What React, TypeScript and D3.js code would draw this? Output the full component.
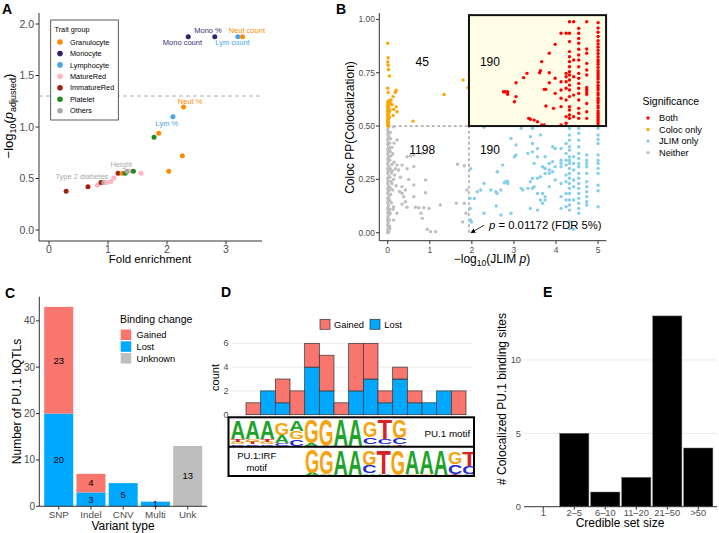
import React from "react";
import * as d3 from "d3";

const FONT = "'Liberation Sans', Arial, Helvetica, sans-serif";

// ---------- Panel A data ----------
const traitGroups = ["Granulocyte", "Monocyte", "Lymphocyte", "MatureRed", "ImmatureRed", "Platelet", "Others"];
const traitColors = ["#FF8C00", "#36206E", "#4AA3F0", "#FFB6C1", "#A3230F", "#1E8B1E", "#A9A9A9"];
const traitFold = [0.29, 0.66, 0.82, 0.88, 0.93, 0.98, 1.05, 1.10, 1.17, 1.24, 1.29, 1.37, 1.32, 1.43, 1.56, 2.03, 2.26, 1.78, 1.86, 2.10, 2.28, 2.36, 2.81, 3.20, 3.28];
const traitNegLogP = [0.375, 0.42, 0.435, 0.46, 0.46, 0.46, 0.47, 0.505, 0.55, 0.55, 0.55, 0.57, 0.57, 0.57, 0.55, 0.57, 0.72, 0.90, 0.94, 1.10, 1.194, 1.877, 1.877, 1.877, 1.877];
const traitGroupOf = ["ImmatureRed", "ImmatureRed", "MatureRed", "ImmatureRed", "Others", "MatureRed", "MatureRed", "MatureRed", "ImmatureRed", "Granulocyte", "Platelet", "MatureRed", "Others", "Platelet", "MatureRed", "Granulocyte", "Granulocyte", "Platelet", "Granulocyte", "Lymphocyte", "Granulocyte", "Monocyte", "Monocyte", "Lymphocyte", "Granulocyte"];
const traitLabels = ["", "", "", "", "Type 2 diabetes", "", "", "", "", "", "", "", "Height", "", "", "", "", "", "", "Lym %", "Neut %", "Mono count", "Mono %", "Lym count", "Neut count"];
const traitLabelColors: Record<string, string> = { Granulocyte: "#FF8C00", Monocyte: "#3D2E7C", Lymphocyte: "#4AA3F0", Others: "#AAAAAA" };
const traitLabelOffsets: [number, number][] = [[0, 0], [0, 0], [0, 0], [0, 0], [-22, -3.6], [0, 0], [0, 0], [0, 0], [0, 0], [0, 0], [0, 0], [0, 0], [-5.6, -4.3], [0, 0], [0, 0], [0, 0], [0, 0], [0, 0], [0, 0], [-6, 9.3], [6.5, -3.5], [-5.8, 8.3], [-6.8, -3.7], [-5.3, 8.3], [4.3, -3.7]];
const aXTicks = [0, 1, 2, 3];
const aYTicks = [0, 0.5, 1, 1.5, 2];

// ---------- Panel B data ----------
const sigLevels = ["Both", "Coloc only", "JLIM only", "Neither"];
const sigColors = ["#FF0000", "#FFA500", "#87CEEB", "#BEBEBE"];
const jlimThreshold = 1.931; // -log10(0.01172)
const bCounts = [
  { label: "45", x: 0.82, y: 0.80 },
  { label: "190", x: 2.43, y: 0.80 },
  { label: "1198", x: 0.82, y: 0.388 },
  { label: "190", x: 2.43, y: 0.388 },
];
const bXTicks = [0, 1, 2, 3, 4, 5];
const bYTicks = [0, 0.25, 0.5, 0.75, 1];

const neitherPts: [number, number][] = [
  [0, 0.0], [0, 0.012], [0.01, 0.024], [0, 0.035], [0.01, 0.047], [0, 0.058], [0, 0.07], [0.02, 0.081], [0, 0.093], [0.01, 0.104],
  [0, 0.116], [0.02, 0.127], [0, 0.139], [0.01, 0.15], [0, 0.162], [0.03, 0.173], [0, 0.185], [0.01, 0.196], [0, 0.208], [0.02, 0.219],
  [0, 0.231], [0.01, 0.242], [0, 0.254], [0.03, 0.265], [0, 0.277], [0.01, 0.288], [0, 0.3], [0.02, 0.311], [0, 0.323], [0.01, 0.334],
  [0, 0.346], [0.03, 0.357], [0, 0.369], [0.01, 0.38], [0, 0.392], [0.02, 0.403], [0, 0.415], [0.01, 0.426], [0, 0.438], [0.02, 0.449],
  [0, 0.461], [0.01, 0.472], [0, 0.484], [0.02, 0.495], [0.05, 0.02], [0.06, 0.09], [0.05, 0.15], [0.07, 0.18], [0.06, 0.21], [0.08, 0.24],
  [0.05, 0.26], [0.09, 0.28], [0.06, 0.3], [0.1, 0.32], [0.05, 0.34], [0.08, 0.36], [0.06, 0.38], [0.1, 0.4], [0.05, 0.42], [0.07, 0.44],
  [0.06, 0.47], [0.12, 0.2], [0.14, 0.25], [0.11, 0.29], [0.15, 0.33], [0.12, 0.37], [0.09, 0.14], [0.13, 0.11], [0.16, 0.27], [0.18, 0.3],
  [0.1, 0.23], [0.2, 0.22], [0.04, 0.06], [0.05, 0.11], [0.14, 0.497], [0.22, 0.435], [0.15, 0.42], [0.46, 0.356], [0.54, 0.36], [0.62, 0.364],
  [0.82, 0.372], [0.22, 0.317], [0.34, 0.317], [0.26, 0.294], [0.46, 0.30], [0.62, 0.31], [1.66, 0.321], [1.82, 0.314], [0.34, 0.216], [0.42, 0.2],
  [0.28, 0.193], [0.38, 0.169], [0.62, 0.169], [0.9, 0.187], [0.9, 0.247], [0.62, 0.224], [0.42, 0.145], [0.34, 0.134], [0.14, 0.122], [0.22, 0.091],
  [0.46, 0.119], [0.66, 0.119], [0.74, 0.117], [0.86, 0.117], [0.98, 0.114], [0.79, 0.091], [0.82, 0.067], [1.25, 0.13], [1.63, 0.138], [1.82, 0.138],
  [1.86, 0.091], [0.94, 0.016], [1.02, 0.005], [1.14, 0.005], [0.14, 0.059], [0.34, 0.185], [1.78, 0.05], [1.88, 0.2], [0.3, 0.26], [0.5, 0.25],
  [0.03, 0.005], [0.04, 0.03], [0.03, 0.1], [0.04, 0.2], [0.03, 0.29], [0.04, 0.39], [0.03, 0.45], [0.02, 0.06], [0.02, 0.16], [0.02, 0.35],
];
const colocPts: [number, number][] = [
  [0, 0.5], [0.01, 0.505], [0, 0.511], [0.02, 0.516], [0, 0.522], [0.01, 0.527], [0, 0.533], [0.03, 0.538], [0, 0.544], [0.01, 0.549],
  [0, 0.555], [0.02, 0.56], [0, 0.566], [0.01, 0.571], [0, 0.577], [0.03, 0.582], [0, 0.588], [0.01, 0.593], [0, 0.599], [0.02, 0.604],
  [0, 0.61], [0.01, 0.615], [0.04, 0.62], [0.03, 0.6], [0.05, 0.57], [0.04, 0.54], [0, 0.888], [0.01, 0.82], [0, 0.80], [0.01, 0.785],
  [0.02, 0.765], [0.04, 0.735], [0, 0.677], [0.01, 0.657], [0.2, 0.668], [0.18, 0.657], [0.13, 0.638], [0.08, 0.622], [0.2, 0.59], [0.14, 0.578],
  [0.22, 0.567], [0.13, 0.55], [0.6, 0.523], [1.34, 0.648], [1.79, 0.716], [1.91, 0.68], [0.06, 0.61], [0.1, 0.6],
];
const jlimPts: [number, number][] = [
  [5, 0.489], [5, 0.458], [5, 0.437], [5, 0.418], [5, 0.364], [5, 0.34], [5, 0.325], [5, 0.301], [5, 0.278], [5, 0.223], [5, 0.197], [5, 0.122],
  [4.73, 0.364], [4.73, 0.34], [4.73, 0.325], [4.73, 0.309], [4.73, 0.278], [4.73, 0.239], [4.73, 0.216], [4.73, 0.192], [4.73, 0.169], [4.73, 0.145], [4.73, 0.13],
  [4.54, 0.489], [4.54, 0.466], [4.54, 0.434], [4.54, 0.403], [4.54, 0.372], [4.54, 0.348], [4.54, 0.325], [4.54, 0.309], [4.54, 0.278], [4.54, 0.255],
  [4.54, 0.231], [4.54, 0.208], [4.54, 0.184], [4.54, 0.161], [4.54, 0.138], [4.54, 0.114], [4.54, 0.091],
  [4.42, 0.356], [4.42, 0.325], [4.42, 0.294], [4.42, 0.247], [4.42, 0.216], [4.42, 0.153], [4.42, 0.016],
  [4.32, 0.489], [4.32, 0.458], [4.32, 0.434], [4.32, 0.403], [4.32, 0.387], [4.32, 0.356], [4.32, 0.34], [4.32, 0.325], [4.32, 0.301], [4.32, 0.278],
  [4.32, 0.255], [4.32, 0.231], [4.32, 0.208], [4.32, 0.184], [4.32, 0.153], [4.32, 0.13], [4.32, 0.106], [4.32, 0.052], [4.32, 0.02],
  [4.24, 0.418], [4.24, 0.372], [4.24, 0.34], [4.24, 0.317], [4.24, 0.27], [4.24, 0.239], [4.24, 0.184], [4.24, 0.153], [4.24, 0.122],
  [4.12, 0.395], [4.12, 0.34], [4.12, 0.325], [4.12, 0.309], [4.12, 0.231], [4.12, 0.169], [4.12, 0.114],
  [3.98, 0.395], [3.98, 0.309], [3.98, 0.247], [3.92, 0.403], [3.92, 0.333], [3.92, 0.286],
  [3.84, 0.325], [3.84, 0.294], [3.84, 0.278], [3.84, 0.216], [3.74, 0.356], [3.74, 0.301], [3.74, 0.278], [3.74, 0.169], [3.74, 0.153],
  [3.68, 0.309], [3.68, 0.184], [3.68, 0.138], [3.63, 0.458], [3.63, 0.262], [3.63, 0.153],
  [3.56, 0.395], [3.56, 0.356], [3.56, 0.255], [3.56, 0.184], [3.56, 0.106], [3.48, 0.325], [3.48, 0.216],
  [3.44, 0.418], [3.44, 0.379], [3.44, 0.255], [3.44, 0.208], [3.39, 0.45], [3.39, 0.239], [3.39, 0.114], [3.33, 0.372], [3.33, 0.208],
  [3.21, 0.2], [3.17, 0.208], [3.05, 0.411], [3.05, 0.364], [3.01, 0.356], [2.93, 0.442], [2.93, 0.091], [2.85, 0.231], [2.77, 0.234],
  [2.69, 0.2], [2.69, 0.083], [2.57, 0.192], [2.61, 0.286], [2.73, 0.317], [2.45, 0.2], [2.29, 0.231], [2.29, 0.091],
  [1.97, 0.30], [1.96, 0.161], [1.96, 0.114], [1.97, 0.06], [1.99, 0.05], [2.29, 0.494], [2.13, 0.192], [2.21, 0.2], [2.6, 0.184],
  [2.6, 0.285], [2.81, 0.24], [2.85, 0.24], [2.58, 0.125], [2.06, 0.16], [3.17, 0.489], [3.44, 0.489],
];
const bothPts: [number, number][] = [
  [5, 0.985], [5, 0.96], [5, 0.94], [5, 0.92], [5, 0.9], [5, 0.885], [5, 0.87], [5, 0.855], [5, 0.84], [5, 0.825], [5, 0.81], [5, 0.8],
  [5, 0.79], [5, 0.775], [5, 0.76], [5, 0.75], [5, 0.74], [5, 0.73], [5, 0.72], [5, 0.705], [5, 0.69], [5, 0.68], [5, 0.67], [5, 0.655],
  [5, 0.645], [5, 0.63], [5, 0.62], [5, 0.61], [5, 0.595], [5, 0.585], [5, 0.57], [5, 0.56], [5, 0.55], [5, 0.54], [5, 0.53], [5, 0.52], [5, 0.51],
  [4.73, 0.989], [4.73, 0.861], [4.73, 0.841], [4.73, 0.794], [4.73, 0.763], [4.73, 0.739], [4.73, 0.681], [4.73, 0.672], [4.73, 0.661],
  [4.73, 0.649], [4.73, 0.606], [4.73, 0.567], [4.73, 0.536],
  [4.54, 0.958], [4.54, 0.935], [4.54, 0.911], [4.54, 0.888], [4.54, 0.86], [4.54, 0.833], [4.54, 0.81], [4.54, 0.778], [4.54, 0.747],
  [4.54, 0.724], [4.54, 0.7], [4.54, 0.677], [4.54, 0.653], [4.54, 0.622], [4.54, 0.583], [4.54, 0.56], [4.54, 0.536],
  [4.42, 0.989], [4.42, 0.81], [4.42, 0.731], [4.42, 0.645], [4.42, 0.544],
  [4.32, 0.989], [4.32, 0.935], [4.32, 0.896], [4.32, 0.849], [4.32, 0.825], [4.32, 0.802], [4.32, 0.778], [4.32, 0.755], [4.32, 0.739],
  [4.32, 0.716], [4.32, 0.692], [4.32, 0.669], [4.32, 0.638], [4.32, 0.591], [4.32, 0.575], [4.32, 0.552], [4.32, 0.536],
  [4.24, 0.935], [4.24, 0.747], [4.24, 0.731], [4.24, 0.708], [4.24, 0.677], [4.24, 0.622], [4.24, 0.544], [4.24, 0.513],
  [4.12, 0.935], [4.12, 0.708], [4.12, 0.669], [4.12, 0.63], [4.12, 0.591], [4.12, 0.505],
  [3.98, 0.883], [3.98, 0.724], [3.98, 0.653], [3.94, 0.583], [3.84, 0.841], [3.84, 0.75], [3.84, 0.703], [3.76, 0.672], [3.76, 0.594],
  [3.72, 0.672], [3.72, 0.505], [3.66, 0.802], [3.66, 0.505], [3.63, 0.759], [3.61, 0.75], [3.56, 0.52], [3.48, 0.528], [3.39, 0.532],
  [3.35, 0.536], [3.31, 0.747], [3.23, 0.727], [3.05, 0.703], [3.05, 0.638], [3.01, 0.614], [2.85, 0.661], [2.85, 0.649], [2.79, 0.661], [2.75, 0.661],
];

// ---------- Panel C data ----------
const variantTypes = ["SNP", "Indel", "CNV", "Multi", "Unk"];
const lostCounts = [20, 3, 5, 1, 0];
const gainedCounts = [23, 4, 0, 0, 0];
const unknownCounts = [0, 0, 0, 0, 13];
const bindingKeys = ["Lost", "Gained", "Unknown"];
const bindingColors: Record<string, string> = { Gained: "#F8766D", Lost: "#00A9FF", Unknown: "#BEBEBE" };
const cYTicks = [0, 10, 20, 30, 40];

// ---------- Panel D data ----------
const histGained = [1, 0, 2, 2, 2, 3, 1, 4, 3, 1, 1, 1, 0, 0, 2];
const histLost = [0, 2, 1, 0, 4, 2, 0, 2, 3, 1, 3, 1, 1, 2, 0];
const dYTicks = [0, 2, 4, 6];
const logoColors: Record<string, string> = { A: "#1FA32A", C: "#1F2BD6", G: "#F5A30F", T: "#D62222" };
const pu1Motif: [string, number][][] = [
  [["C", 0.06], ["G", 0.07], ["T", 0.1], ["A", 0.68]],
  [["C", 0.05], ["T", 0.07], ["G", 0.1], ["A", 0.66]],
  [["C", 0.05], ["G", 0.07], ["T", 0.1], ["A", 0.66]],
  [["C", 0.1], ["A", 0.3], ["G", 0.45]],
  [["C", 0.25], ["G", 0.26], ["A", 0.36]],
  [["A", 0.1], ["G", 0.86]],
  [["G", 0.97]],
  [["A", 0.97]],
  [["A", 0.97]],
  [["A", 0.05], ["C", 0.25], ["G", 0.58]],
  [["A", 0.04], ["C", 0.18], ["T", 0.72]],
  [["T", 0.05], ["C", 0.22], ["G", 0.66]],
];
const irfMotif: [string, number][][] = [
  [["A", 0.08], ["G", 0.86]],
  [["A", 0.05], ["G", 0.88]],
  [["A", 0.93]],
  [["A", 0.93]],
  [["A", 0.06], ["C", 0.3], ["G", 0.55]],
  [["A", 0.05], ["T", 0.9]],
  [["G", 0.92]],
  [["G", 0.04], ["A", 0.9]],
  [["G", 0.05], ["A", 0.88]],
  [["A", 0.92]],
  [["T", 0.05], ["C", 0.35], ["G", 0.45]],
  [["A", 0.05], ["C", 0.3], ["T", 0.55]],
];
const glyphAdvance: Record<string, number> = { A: 72.2, C: 72.2, G: 77.8, T: 61.1 };

// ---------- Panel E data ----------
const setSizes = ["1", "2\u20135", "6\u201310", "11\u201320", "21\u201350", ">50"];
const setCounts = [0, 5, 1, 2, 13, 4];
const eYTicks = [0, 5, 10];

const AXIS = "#333333";
const TICK_TEXT = "#4D4D4D";

function Logo({ stacks, x0, colW, yBottom, rowH }: { stacks: [string, number][][]; x0: number; colW: number; yBottom: number; rowH: number }) {
  const items: React.ReactNode[] = [];
  stacks.forEach((stack, i) => {
    let yc = yBottom;
    const x = x0 + i * colW;
    stack.forEach(([letter, frac], j) => {
      const h = frac * rowH;
      items.push(
        <text
          key={`${i}-${j}`}
          fontFamily={FONT}
          fontWeight="bold"
          fontSize={100}
          fill={logoColors[letter]}
          transform={`translate(${x},${yc}) scale(${colW / glyphAdvance[letter]},${h / 71.6})`}
        >
          {letter}
        </text>
      );
      yc -= h;
    });
  });
  return <g>{items}</g>;
}

export default function App() {
  const W = 719, H = 533;

  const xA = d3.scaleLinear().domain([-0.17, 3.61]).range([39, 262]);
  const yA = d3.scaleLinear().domain([-0.107, 2.107]).range([241, 13]);
  const colorA = d3.scaleOrdinal<string, string>().domain(traitGroups).range(traitColors);

  const xB = d3.scaleLinear().domain([-0.2, 5.2]).range([379.3, 606.5]);
  const yB = d3.scaleLinear().domain([-0.0375, 1.03]).range([240.7, 13]);
  const colorB = d3.scaleOrdinal<string, string>().domain(sigLevels).range(sigColors);

  const xC = d3.scaleBand().domain(variantTypes).range([42.6, 203.8]).paddingInner(0.1).paddingOuter(0.05);
  const yC = d3.scaleLinear().domain([0, 45.2]).range([506.3, 296.7]);
  const cTable = variantTypes.map((v, i) => ({ type: v, Lost: lostCounts[i], Gained: gainedCounts[i], Unknown: unknownCounts[i] }));
  const cStack = d3.stack<any>().keys(bindingKeys)(cTable);

  const xD = d3.scaleLinear().domain([0, histGained.length]).range([246, 466]);
  const yD = d3.scaleLinear().domain([0, 6.8]).range([414.7, 333.8]);

  const xE = d3.scaleBand().domain(setSizes).range([527.8, 713.8]).paddingInner(0.06).paddingOuter(0.03);
  const yE = d3.scaleLinear().domain([0, 13.65]).range([506.7, 306.4]);

  const rectB = { x0: xB(jlimThreshold), x1: xB(5.19), y0: yB(1.02), y1: yB(0.5) };

  return (
    <svg width={W} height={H} fontFamily={FONT} style={{ position: "absolute", left: 0, top: 0, background: "#fff" }}>
      <rect width={W} height={H} fill="#fff" />
      <defs>
        <clipPath id="motifClip">
          <rect x={229.5} y={418.3} width={243.5} height={56.7} />
        </clipPath>
        <marker id="arrowHead" viewBox="0 0 10 10" refX="9" refY="5" markerWidth="6" markerHeight="6" orient="auto">
          <path d="M0,0 L10,5 L0,10 z" fill="#000" />
        </marker>
      </defs>

      {/* ================= Panel A ================= */}
      <text x={2} y={14} fontSize={14} fontWeight="bold">A</text>
      <line x1={39} x2={39} y1={13} y2={241} stroke={AXIS} />
      <line x1={39} x2={262} y1={241} y2={241} stroke={AXIS} />
      {aYTicks.map((t) => (
        <g key={t}>
          <line x1={35.5} x2={39} y1={yA(t)} y2={yA(t)} stroke={AXIS} />
          <text x={34} y={yA(t)} dy="0.35em" textAnchor="end" fontSize={10.5} fill={TICK_TEXT}>{t.toFixed(1)}</text>
        </g>
      ))}
      {aXTicks.map((t) => (
        <g key={t}>
          <line x1={xA(t)} x2={xA(t)} y1={241} y2={244.5} stroke={AXIS} />
          <text x={xA(t)} y={253} textAnchor="middle" fontSize={10.5} fill={TICK_TEXT}>{t}</text>
        </g>
      ))}
      <line x1={39} x2={262} y1={yA(1.301)} y2={yA(1.301)} stroke="#9A9A9A" strokeDasharray="4,3" strokeWidth={0.8} />
      {traitFold.map((f, i) => (
        <circle key={i} cx={xA(f)} cy={yA(traitNegLogP[i])} r={2.5} fill={colorA(traitGroupOf[i])} />
      ))}
      {traitLabels.map((lab, i) =>
        lab ? (
          <text key={"l" + i} x={xA(traitFold[i]) + traitLabelOffsets[i][0]} y={yA(traitNegLogP[i]) + traitLabelOffsets[i][1]}
            textAnchor="middle" fontSize={7.5} fill={traitLabelColors[traitGroupOf[i]]}>{lab}</text>
        ) : null
      )}
      <text x={150} y={263} textAnchor="middle" fontSize={11.5}>Fold enrichment</text>
      <text transform="translate(12.5,116) rotate(-90)" textAnchor="middle" fontSize={13}>
        {"\u2212log"}<tspan fontSize={9} dy={3}>10</tspan><tspan dy={-3}>(</tspan><tspan fontStyle="italic">p</tspan>
        <tspan fontSize={9} dy={3}>adjusted</tspan><tspan dy={-3}>)</tspan>
      </text>
      <rect x={50.7} y={20} width={67.6} height={100} fill="#fff" stroke="#333" strokeWidth={0.8} />
      <text x={54.5} y={31.5} fontSize={7.3}>Trait group</text>
      {traitGroups.map((g, i) => (
        <g key={g}>
          <circle cx={60} cy={42 + i * 11.45} r={2.8} fill={colorA(g)} />
          <text x={70} y={42 + i * 11.45 + 2.6} fontSize={7.3}>{g}</text>
        </g>
      ))}

      {/* ================= Panel B ================= */}
      <text x={336} y={14} fontSize={14} fontWeight="bold">B</text>
      <rect x={rectB.x0} y={rectB.y0} width={rectB.x1 - rectB.x0} height={rectB.y1 - rectB.y0} fill="#FFFDE6" />
      <line x1={xB(0)} x2={xB(jlimThreshold)} y1={yB(0.5)} y2={yB(0.5)} stroke="#777" strokeDasharray="3,2.5" strokeWidth={1} />
      <line x1={xB(jlimThreshold)} x2={xB(jlimThreshold)} y1={yB(0)} y2={yB(0.5)} stroke="#777" strokeDasharray="3,2.5" strokeWidth={1} />
      {neitherPts.map(([x, y], i) => <circle key={"n" + i} cx={xB(x)} cy={yB(y)} r={1.7} fill={colorB("Neither")} />)}
      {jlimPts.map(([x, y], i) => <circle key={"j" + i} cx={xB(x)} cy={yB(y)} r={1.7} fill={colorB("JLIM only")} />)}
      {colocPts.map(([x, y], i) => <circle key={"c" + i} cx={xB(x)} cy={yB(y)} r={1.7} fill={colorB("Coloc only")} />)}
      {bothPts.map(([x, y], i) => <circle key={"b" + i} cx={xB(x)} cy={yB(y)} r={1.7} fill={colorB("Both")} />)}
      <rect x={rectB.x0} y={rectB.y0} width={rectB.x1 - rectB.x0} height={rectB.y1 - rectB.y0} fill="none" stroke="#111" strokeWidth={2} />
      {bCounts.map((c, i) => (
        <text key={i} x={xB(c.x)} y={yB(c.y)} dy="0.35em" textAnchor="middle" fontSize={12}>{c.label}</text>
      ))}
      <line x1={379.3} x2={379.3} y1={13} y2={240.7} stroke={AXIS} />
      <line x1={379.3} x2={606.5} y1={240.7} y2={240.7} stroke={AXIS} />
      {bYTicks.map((t) => (
        <g key={t}>
          <line x1={376} x2={379.3} y1={yB(t)} y2={yB(t)} stroke={AXIS} />
          <text x={375} y={yB(t)} dy="0.35em" textAnchor="end" fontSize={8.5} fill={TICK_TEXT}>{t.toFixed(2)}</text>
        </g>
      ))}
      {bXTicks.map((t) => (
        <g key={t}>
          <line x1={xB(t)} x2={xB(t)} y1={240.7} y2={244} stroke={AXIS} />
          <text x={xB(t)} y={252.5} textAnchor="middle" fontSize={8.5} fill={TICK_TEXT}>{t}</text>
        </g>
      ))}
      <line x1={xB(jlimThreshold) + 15} x2={xB(jlimThreshold) + 2} y1={yB(0.035)} y2={yB(0.0)} stroke="#000" strokeWidth={0.8} markerEnd="url(#arrowHead)" />
      <text x={489} y={228.5} fontSize={11.3}>
        <tspan fontStyle="italic">p</tspan> = 0.01172 (FDR 5%)
      </text>
      <text x={492} y={263} textAnchor="middle" fontSize={12}>
        {"\u2212log"}<tspan fontSize={8.5} dy={3}>10</tspan><tspan dy={-3}>(JLIM </tspan><tspan fontStyle="italic">p</tspan><tspan>)</tspan>
      </text>
      <text transform="translate(354,127.5) rotate(-90)" textAnchor="middle" fontSize={12}>Coloc PP(Colocalization)</text>
      <text x={642.5} y={105} fontSize={10.5}>Significance</text>
      {sigLevels.map((s, i) => (
        <g key={s}>
          <circle cx={648} cy={118 + i * 11.55} r={1.7} fill={colorB(s)} />
          <text x={659} y={118 + i * 11.55 + 3.2} fontSize={9.2}>{s}</text>
        </g>
      ))}

      {/* ================= Panel C ================= */}
      <text x={5} y={298} fontSize={14} fontWeight="bold">C</text>
      {cStack.map((layer) =>
        layer.map((d, i) =>
          d[1] - d[0] > 0 ? (
            <g key={layer.key + i}>
              <rect x={xC(variantTypes[i])!} y={yC(d[1])} width={xC.bandwidth()} height={yC(d[0]) - yC(d[1])} fill={bindingColors[layer.key]} />
              <text x={xC(variantTypes[i])! + xC.bandwidth() / 2} y={yC((d[0] + d[1]) / 2)} dy="0.35em" textAnchor="middle" fontSize={9.5}>{d[1] - d[0]}</text>
            </g>
          ) : null
        )
      )}
      <line x1={39.3} x2={39.3} y1={296.7} y2={506.3} stroke={AXIS} />
      <line x1={39.3} x2={207} y1={506.3} y2={506.3} stroke={AXIS} />
      {cYTicks.map((t) => (
        <g key={t}>
          <line x1={36} x2={39.3} y1={yC(t)} y2={yC(t)} stroke={AXIS} />
          <text x={35} y={yC(t)} dy="0.35em" textAnchor="end" fontSize={10} fill={TICK_TEXT}>{t}</text>
        </g>
      ))}
      {variantTypes.map((v) => (
        <g key={v}>
          <line x1={xC(v)! + xC.bandwidth() / 2} x2={xC(v)! + xC.bandwidth() / 2} y1={506.3} y2={509.5} stroke={AXIS} />
          <text x={xC(v)! + xC.bandwidth() / 2} y={517.5} textAnchor="middle" fontSize={9.8} fill={TICK_TEXT}>{v}</text>
        </g>
      ))}
      <text x={123} y={530} textAnchor="middle" fontSize={12}>Variant type</text>
      <text transform="translate(21,401.5) rotate(-90)" textAnchor="middle" fontSize={12}>Number of PU.1 bQTLs</text>
      <text x={120} y={323} fontSize={10.5}>Binding change</text>
      {["Gained", "Lost", "Unknown"].map((k, i) => (
        <g key={k}>
          <rect x={120.7} y={329.5 + i * 11.8} width={10.5} height={10.5} fill={bindingColors[k]} />
          <text x={136.5} y={338.3 + i * 11.8} fontSize={9.3}>{k}</text>
        </g>
      ))}

      {/* ================= Panel D ================= */}
      <text x={221} y={297} fontSize={14} fontWeight="bold">D</text>
      <rect x={320} y={319.3} width={10} height={10} fill={bindingColors.Gained} stroke="#333" strokeWidth={0.7} />
      <text x={334} y={327.8} fontSize={9.3}>Gained</text>
      <rect x={370} y={319.3} width={10} height={10} fill={bindingColors.Lost} stroke="#333" strokeWidth={0.7} />
      <text x={384.3} y={327.8} fontSize={9.3}>Lost</text>
      {dYTicks.map((t) => (
        <g key={t}>
          <line x1={231.7} x2={472} y1={yD(t)} y2={yD(t)} stroke="#EBEBEB" strokeWidth={1} />
          <text x={228.5} y={yD(t)} dy="0.35em" textAnchor="end" fontSize={9} fill={TICK_TEXT}>{t}</text>
        </g>
      ))}
      {histLost.map((v, i) =>
        v > 0 ? <rect key={"hl" + i} x={xD(i)} y={yD(v)} width={xD(i + 1) - xD(i)} height={yD(0) - yD(v)} fill={bindingColors.Lost} stroke="#333" strokeWidth={0.7} /> : null
      )}
      {histGained.map((v, i) =>
        v > 0 ? <rect key={"hg" + i} x={xD(i)} y={yD(histLost[i] + v)} width={xD(i + 1) - xD(i)} height={yD(histLost[i]) - yD(histLost[i] + v)} fill={bindingColors.Gained} stroke="#333" strokeWidth={0.7} /> : null
      )}
      <text transform="translate(219,377.5) rotate(-90)" textAnchor="middle" fontSize={11}>count</text>
      <g clipPath="url(#motifClip)">
        <Logo stacks={pu1Motif} x0={230.5} colW={14.7} yBottom={445.5} rowH={27.5} />
        <Logo stacks={irfMotif} x0={305} colW={14.3} yBottom={475} rowH={27} />
      </g>
      <rect x={228.5} y={417.3} width={245.5} height={58.7} fill="none" stroke="#000" strokeWidth={2} />
      <line x1={228.5} x2={474} y1={446.7} y2={446.7} stroke="#000" strokeWidth={2} />
      <text x={447.3} y={433.3} dy="0.35em" textAnchor="middle" fontSize={9.8}>PU.1 motif</text>
      <text x={256.7} y={459} textAnchor="middle" fontSize={9.5}>PU.1:IRF</text>
      <text x={256.7} y={471.3} textAnchor="middle" fontSize={9.5}>motif</text>

      {/* ================= Panel E ================= */}
      <text x={543} y={297} fontSize={14} fontWeight="bold">E</text>
      {eYTicks.map((t) => (
        <g key={t}>
          {t > 0 && <line x1={524} x2={717} y1={yE(t)} y2={yE(t)} stroke="#EBEBEB" strokeWidth={1} />}
          <text x={521} y={yE(t)} dy="0.35em" textAnchor="end" fontSize={9.3} fill={TICK_TEXT}>{t}</text>
        </g>
      ))}
      {setCounts.map((v, i) =>
        v > 0 ? <rect key={"e" + i} x={xE(setSizes[i])!} y={yE(v)} width={xE.bandwidth()} height={yE(0) - yE(v)} fill="#000" stroke="#666" strokeWidth={0.5} /> : null
      )}
      <line x1={524} x2={717} y1={yE(0)} y2={yE(0)} stroke={AXIS} />
      {setSizes.map((s) => (
        <g key={s}>
          <line x1={xE(s)! + xE.bandwidth() / 2} x2={xE(s)! + xE.bandwidth() / 2} y1={yE(0)} y2={yE(0) + 3} stroke={AXIS} />
          <text x={xE(s)! + xE.bandwidth() / 2} y={515.5} textAnchor="middle" fontSize={9.3} fill={TICK_TEXT}>{s}</text>
        </g>
      ))}
      <text x={620} y={527} textAnchor="middle" fontSize={12}>Credible set size</text>
      <text transform="translate(506,399) rotate(-90)" textAnchor="middle" fontSize={12}># Colocalized PU.1 binding sites</text>
    </svg>
  );
}
